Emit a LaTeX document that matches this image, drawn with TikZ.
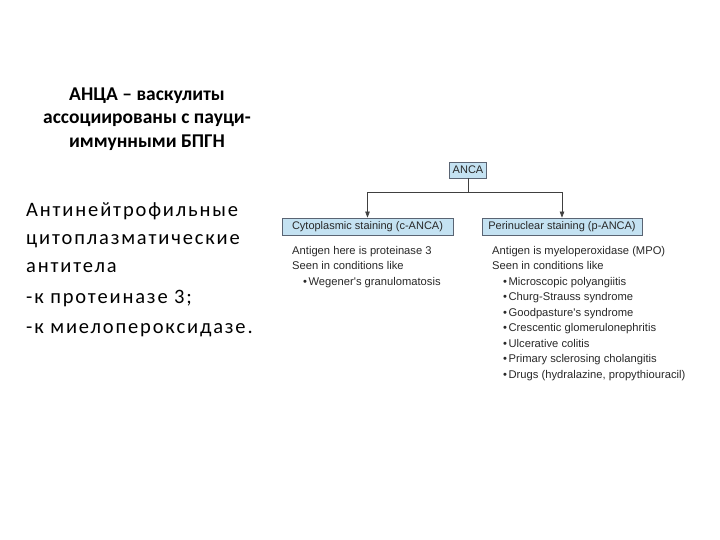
\documentclass[tikz,border=0pt]{standalone}
\usepackage{fontspec}
\setmainfont{Carlito}
\newfontfamily\spacedf[LetterSpace=9]{Carlito}
\newfontfamily\arialf{Liberation Sans}
\usetikzlibrary{arrows.meta}
\definecolor{boxfill}{RGB}{196,226,242}
\definecolor{boxdraw}{RGB}{90,100,115}
\definecolor{txt}{RGB}{40,40,40}
\tikzset{
  hbox/.style={draw=boxdraw, line width=0.8pt, fill=boxfill, inner xsep=3pt, inner ysep=1.5pt, font=\arialf\fontsize{11}{12}\selectfont, text=txt},
  conn/.style={draw=black!75, line width=0.7pt},
  arr/.style={conn, -{Triangle[length=6pt,width=4.5pt]}},
  body/.style={anchor=north west, align=left, inner sep=0pt, font=\arialf\fontsize{11.2}{15.5}\selectfont, text=txt},
}
\newcommand{\bul}{\hspace{11pt}•\hspace{1.5pt}}
\begin{document}
\begin{tikzpicture}[x=1pt,y=-1pt]
\useasboundingbox (0,0) rectangle (720,540);
\node[align=center, font=\bfseries\fontsize{19.5}{23.5}\selectfont] (title) at (147,119)
  {АНЦА – васкулиты\\ассоциированы с пауци-\\иммунными БПГН};
\node[anchor=north west, align=left, inner sep=0pt, font=\spacedf\fontsize{20.5}{28}\selectfont] (left) at (26,202)
  {Антинейтрофильные\\цитоплазматические\\антитела\\[3pt]-к протеиназе 3;\\[2pt]-к миелопероксидазе.};
\node[hbox, minimum width=35pt, minimum height=16pt] (anca) at (468,170) {ANCA};
\node[hbox, minimum width=171pt, minimum height=17pt] (cyto) at (367.5,226.5) {Cytoplasmic staining (c-ANCA)};
\node[hbox, minimum width=160pt, minimum height=17pt] (peri) at (562,226.5) {Perinuclear staining (p-ANCA)};
\coordinate (j) at (468,192);
\draw[conn] (anca.south) -- (j);
\draw[arr] (j) -| (cyto.north);
\draw[arr] (j) -| (peri.north);
\node[body] (ctext) at (292,246) {Antigen here is proteinase 3\\Seen in conditions like\\\bul Wegener's granulomatosis};
\node[body] (ptext) at (492,246) {Antigen is myeloperoxidase (MPO)\\Seen in conditions like\\
\bul Microscopic polyangiitis\\
\bul Churg-Strauss syndrome\\
\bul Goodpasture's syndrome\\
\bul Crescentic glomerulonephritis\\
\bul Ulcerative colitis\\
\bul Primary sclerosing cholangitis\\
\bul Drugs (hydralazine, propythiouracil)};
\end{tikzpicture}
\end{document}
